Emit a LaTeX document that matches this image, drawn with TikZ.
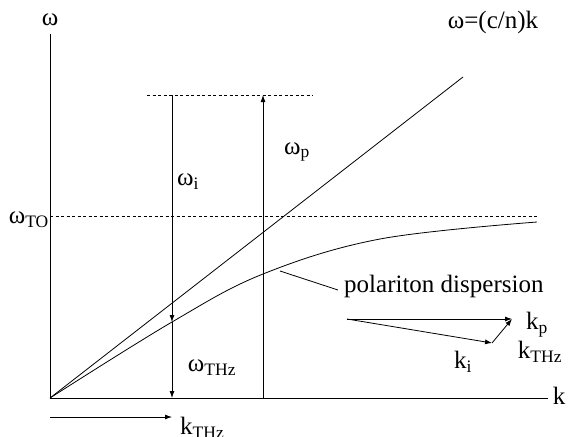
\documentclass[tikz,border=0pt]{standalone}
\usepackage{fontspec}
\setmainfont{Liberation Serif}
\usetikzlibrary{arrows.meta}
\begin{document}
\begin{tikzpicture}[x=1pt,y=-1pt,
  ln/.style={line width=0.8pt},
  arr/.style={ln,-{Latex[length=7pt,width=5pt]}},
  dsh/.style={line width=0.7pt,dash pattern=on 3pt off 2.5pt},
  lbl/.style={inner sep=0pt,font=\fontsize{25}{28}\selectfont}]
\useasboundingbox (0,0) rectangle (569,436);
% axes
\coordinate (O) at (50,398);
\coordinate (ytop) at (50,34);
\coordinate (xend) at (548,398);
\draw[ln] (ytop) -- (O) -- (xend);
\node[lbl] (wlab) at (50,20) {ω};
\node[lbl] (klab) at (559,396) {k};
% light line
\coordinate (lend) at (463,77);
\draw[ln] (O) -- (lend);
\node[lbl] (light) at (493,22) {ω=(c/n)k};
% dashed lines
\coordinate (dtl) at (147,95);
\coordinate (dtr) at (313,95);
\draw[dsh] (dtl) -- (dtr);
\coordinate (dtol) at (50,216);
\coordinate (dtor) at (537,216);
\draw[dsh] (dtol) -- (dtor);
\node[lbl,anchor=east] (wto) at (49,220) {ω\textsubscript{TO}};
% polariton
\draw[ln] plot[smooth,tension=0.6] coordinates {(50,398) (172,322) (263,274) (380,239) (537,222)};
\coordinate (pc) at (280,271);
\coordinate (pl) at (338,290);
\draw[ln] (pc) -- (pl);
\node[lbl,anchor=west] (pol) at (344,286) {polariton dispersion};
% vertical arrows
\coordinate (it) at (172,95);
\coordinate (im) at (172,322);
\coordinate (ib) at (172,398);
\draw[arr] (it) -- (im);
\draw[arr] (im) -- (ib);
\coordinate (pb) at (263,398);
\coordinate (pt) at (263,95);
\draw[arr] (pb) -- (pt);
\node[lbl] (wi) at (188,182) {ω\textsubscript{i}};
\node[lbl] (wp) at (297,152) {ω\textsubscript{p}};
\node[lbl] (wthz) at (212,368) {ω\textsubscript{THz}};
% vector diagram
\coordinate (vs) at (347,319);
\coordinate (vp) at (512,319);
\coordinate (vi) at (492,343);
\draw[arr] (vs) -- (vp);
\draw[arr] (vs) -- (vi);
\draw[arr] (vi) -- (vp);
\node[lbl] (kp) at (537,325) {k\textsubscript{p}};
\node[lbl] (kthz) at (540,352) {k\textsubscript{THz}};
\node[lbl] (ki) at (463,362) {k\textsubscript{i}};
% k_THz bottom
\coordinate (ks) at (50,417);
\coordinate (ke) at (172,417);
\draw[arr] (ks) -- (ke);
\node[lbl,anchor=west] (kthzb) at (180,428) {k\textsubscript{THz}};
\end{tikzpicture}
\end{document}
